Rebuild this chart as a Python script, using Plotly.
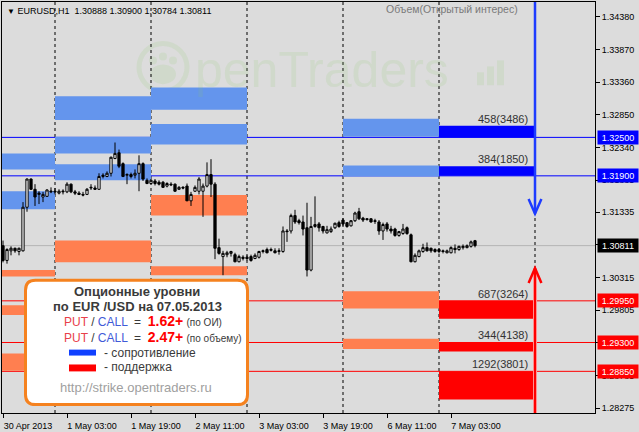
import plotly.graph_objects as go

W, H = 639, 432
ML, MR, MT, MB = 2, 44, 1, 16
FONT = "Liberation Sans, Arial, sans-serif"

# EURUSD H1, bar index 0 = 30 Apr 2013 11:00 (weekend bars skipped)
opens = [
    1.3081, 1.3058, 1.3073, 1.3077, 1.3072, 1.3073, 1.3141, 1.3185, 1.3169, 1.3161,
    1.3157, 1.3158, 1.3165, 1.3166, 1.3163, 1.3165, 1.3165, 1.3177, 1.3165, 1.3163,
    1.3161, 1.3161, 1.3171, 1.3171, 1.3169, 1.3189, 1.3189, 1.3194, 1.3217, 1.3226,
    1.3209, 1.3191, 1.3192, 1.3191, 1.3194, 1.3209, 1.3183, 1.3178, 1.3182, 1.3180,
    1.3180, 1.3174, 1.3177, 1.3177, 1.3169, 1.3172, 1.3174, 1.3151, 1.3166, 1.3166,
    1.3166, 1.3174, 1.3192, 1.3177, 1.3078, 1.3064, 1.3067, 1.3069, 1.3067, 1.3056,
    1.3061, 1.3063, 1.3064, 1.3061, 1.3063, 1.3072, 1.3075, 1.3075, 1.3073, 1.3072,
    1.3072, 1.3104, 1.3104, 1.3128, 1.3120, 1.3118, 1.3109, 1.3043, 1.3111, 1.3115,
    1.3111, 1.3101, 1.3103, 1.3109, 1.3117, 1.3121, 1.3117, 1.3112, 1.3120, 1.3134,
    1.3124, 1.3123, 1.3123, 1.3120, 1.3118, 1.3104, 1.3115, 1.3107, 1.3107, 1.3097,
    1.3100, 1.3109, 1.3098, 1.3056, 1.3064, 1.3072, 1.3078, 1.3077, 1.3075, 1.3075,
    1.3073, 1.3070, 1.3070, 1.3077, 1.3075, 1.3078, 1.3078, 1.3080, 1.30888,
]
highs = [
    1.3089, 1.3077, 1.3080, 1.3078, 1.3078, 1.3149, 1.3186, 1.3186, 1.3177, 1.3166,
    1.3165, 1.3169, 1.3172, 1.3171, 1.3169, 1.3169, 1.3180, 1.3178, 1.3168, 1.3166,
    1.3165, 1.3171, 1.3177, 1.3175, 1.3194, 1.3194, 1.3197, 1.3220, 1.3242, 1.3231,
    1.3211, 1.3194, 1.3195, 1.3200, 1.3222, 1.3211, 1.3186, 1.3185, 1.3185, 1.3183,
    1.3182, 1.3180, 1.3180, 1.3178, 1.3174, 1.3174, 1.3178, 1.3165, 1.3175, 1.3188,
    1.3178, 1.3211, 1.3216, 1.3180, 1.3092, 1.3073, 1.3073, 1.3073, 1.3070, 1.3067,
    1.3066, 1.3066, 1.3067, 1.3069, 1.3073, 1.3075, 1.3078, 1.3078, 1.3077, 1.3077,
    1.3111, 1.3107, 1.3131, 1.3137, 1.3123, 1.3128, 1.3148, 1.3126, 1.3158, 1.3118,
    1.3112, 1.3112, 1.3111, 1.3117, 1.3120, 1.3124, 1.3118, 1.3121, 1.3134, 1.3140,
    1.3126, 1.3124, 1.3124, 1.3123, 1.3121, 1.3117, 1.3118, 1.3112, 1.3109, 1.3104,
    1.3115, 1.3111, 1.3100, 1.3069, 1.3075, 1.3084, 1.3086, 1.3078, 1.3077, 1.3077,
    1.3075, 1.3075, 1.3080, 1.3083, 1.3081, 1.3083, 1.3083, 1.3089, 1.30900,
]
lows = [
    1.3055, 1.3053, 1.3066, 1.3070, 1.3066, 1.3072, 1.3134, 1.3168, 1.3143, 1.3146,
    1.3149, 1.3157, 1.3163, 1.3161, 1.3161, 1.3161, 1.3163, 1.3163, 1.3160, 1.3160,
    1.3158, 1.3160, 1.3168, 1.3168, 1.3168, 1.3186, 1.3188, 1.3189, 1.3216, 1.3202,
    1.3188, 1.3177, 1.3186, 1.3186, 1.3166, 1.3182, 1.3177, 1.3177, 1.3175, 1.3175,
    1.3171, 1.3172, 1.3174, 1.3165, 1.3168, 1.3169, 1.3151, 1.3143, 1.3165, 1.3161,
    1.3126, 1.3172, 1.3157, 1.3060, 1.3067, 1.3035, 1.3063, 1.3064, 1.3055, 1.3055,
    1.3058, 1.3058, 1.3056, 1.3060, 1.3061, 1.3069, 1.3069, 1.3072, 1.3069, 1.3067,
    1.3070, 1.3087, 1.3100, 1.3115, 1.3114, 1.3097, 1.3033, 1.3041, 1.3109, 1.3103,
    1.3100, 1.3100, 1.3101, 1.3107, 1.3109, 1.3112, 1.3109, 1.3111, 1.3118, 1.3121,
    1.3118, 1.3120, 1.3117, 1.3115, 1.3098, 1.3090, 1.3103, 1.3100, 1.3095, 1.3095,
    1.3098, 1.3098, 1.3055, 1.3055, 1.3063, 1.3070, 1.3072, 1.3070, 1.3070, 1.3069,
    1.3069, 1.3069, 1.3069, 1.3069, 1.3073, 1.3075, 1.3077, 1.3078, 1.30784,
]
closes = [
    1.3058, 1.3075, 1.3077, 1.3073, 1.3077, 1.3141, 1.3185, 1.3169, 1.3157, 1.3163,
    1.3161, 1.3168, 1.3166, 1.3165, 1.3166, 1.3166, 1.3177, 1.3165, 1.3163, 1.3161,
    1.3160, 1.3169, 1.3172, 1.3169, 1.3189, 1.3191, 1.3194, 1.3219, 1.3225, 1.3205,
    1.3189, 1.3192, 1.3189, 1.3194, 1.3209, 1.3185, 1.3178, 1.3183, 1.3178, 1.3177,
    1.3172, 1.3178, 1.3176, 1.3166, 1.3172, 1.3171, 1.3151, 1.3161, 1.3172, 1.3185,
    1.3174, 1.3192, 1.3177, 1.3077, 1.3069, 1.3069, 1.3070, 1.3072, 1.3056, 1.3064,
    1.3063, 1.3061, 1.3058, 1.3066, 1.3072, 1.3073, 1.3070, 1.3074, 1.3070, 1.3073,
    1.3104, 1.3103, 1.3128, 1.3118, 1.3117, 1.3107, 1.3043, 1.3111, 1.3114, 1.3109,
    1.3104, 1.3106, 1.3107, 1.3116, 1.3111, 1.3115, 1.3111, 1.3120, 1.3132, 1.3123,
    1.3121, 1.3122, 1.3118, 1.3119, 1.3104, 1.3114, 1.3107, 1.3104, 1.3097, 1.3103,
    1.3107, 1.3100, 1.3056, 1.3066, 1.3073, 1.3078, 1.3073, 1.3073, 1.3072, 1.3072,
    1.3072, 1.3073, 1.3078, 1.3075, 1.3080, 1.3080, 1.3081, 1.3087, 1.30811,
]
last_price = 1.30811

tick_idx = [0, 16, 32, 48, 64, 80, 96, 112]
tick_text = ["30 Apr 2013", "1 May 03:00", "1 May 19:00", "2 May 11:00",
             "3 May 03:00", "3 May 19:00", "6 May 11:00", "7 May 03:00"]
day_starts = [13, 37, 61, 85, 109, 133]   # bar index of 00:00 each day

price_ticks = [1.34380, 1.33870, 1.33360, 1.32850, 1.32340, 1.31835, 1.31335,
               1.30825, 1.30315, 1.29805, 1.29295, 1.28785, 1.28275]

# option-level zones of earlier days (light colours)
zone_start = [-11, -11, -11, -11, -11, 13, 13, 13, 13, 37, 37, 37, 37, 85, 85, 85, 85]
zone_end   = [13, 13, 13, 13, 13, 37, 37, 37, 37, 61, 61, 61, 61, 109, 109, 109, 109]
zone_lo = [1.3200, 1.3138, 1.3033, 1.2973, 1.2886,
           1.3277, 1.3225, 1.3183, 1.3055,
           1.3293, 1.3239, 1.3128, 1.3035,
           1.3251, 1.3189, 1.2983, 1.2920]
zone_hi = [1.3225, 1.3166, 1.3043, 1.2988, 1.2913,
           1.3314, 1.3251, 1.3208, 1.3089,
           1.3328, 1.3271, 1.3160, 1.3049,
           1.3279, 1.3206, 1.3010, 1.2936]
zone_kind = ["res", "res", "sup", "sup", "sup",
             "res", "res", "res", "sup",
             "res", "res", "sup", "sup",
             "res", "res", "sup", "sup"]

# current day (7 May) levels: zone bounds, volume(open interest)
cur_start, cur_end = 109, 133
cur_lo = [1.3250, 1.3190, 1.2967, 1.2916, 1.2841]
cur_hi = [1.3268, 1.3205, 1.2995, 1.2930, 1.2885]
cur_kind = ["res", "res", "sup", "sup", "sup"]
cur_label = ["458(3486)", "384(1850)", "687(3264)", "344(4138)", "1292(3801)"]
res_levels = [1.3250, 1.3190]
sup_levels = [1.2995, 1.2930, 1.2885]

arrow_x = 133
blue_tip = 1.3131
red_tip = 1.3046

Y0, Y1 = 1.28200, 1.34612
X0, X1 = -0.25, 148.0

LIGHT = {"res": "#6495ED", "sup": "#FF7F50"}
BRIGHT = {"res": "#0000FF", "sup": "#FF0000"}


def px_x(px):
    return (px - ML) / (W - ML - MR)


def px_y(py):
    return (H - MB - py) / (H - MT - MB)


fig = go.Figure()
fig.add_trace(go.Candlestick(
    x=list(range(len(opens))), open=opens, high=highs, low=lows, close=closes,
    increasing=dict(fillcolor="white", line=dict(color="black", width=1)),
    decreasing=dict(fillcolor="black", line=dict(color="black", width=1)),
    hoverinfo="skip", showlegend=False,
))

shapes = []
# watermark
wm = "rgba(140,200,110,0.15)"
shapes.append(dict(type="circle", xref="paper", yref="paper", layer="below",
                   x0=px_x(139), x1=px_x(187), y0=px_y(91), y1=px_y(43),
                   line=dict(color=wm, width=5)))
for cx, cy in [(153, 60), (163, 56), (173, 60)]:
    shapes.append(dict(type="circle", xref="paper", yref="paper", layer="below",
                       x0=px_x(cx - 4), x1=px_x(cx + 4), y0=px_y(cy + 4), y1=px_y(cy - 4),
                       fillcolor=wm, line=dict(width=0)))
shapes.append(dict(type="circle", xref="paper", yref="paper", layer="below",
                   x0=px_x(150), x1=px_x(176), y0=px_y(84), y1=px_y(64),
                   fillcolor=wm, line=dict(width=0)))
for bx, top in [(477, 72), (487, 66), (497, 60)]:
    shapes.append(dict(type="rect", xref="paper", yref="paper", layer="below",
                       x0=px_x(bx), x1=px_x(bx + 7), y0=px_y(85), y1=px_y(top),
                       fillcolor=wm, line=dict(width=0)))

# day separators
for d in day_starts:
    shapes.append(dict(type="line", xref="x", yref="paper", layer="below",
                       x0=d, x1=d, y0=0, y1=1,
                       line=dict(color="black", width=1, dash="3px,3px")))
# zones
for s, e, lo, hi, k in zip(zone_start, zone_end, zone_lo, zone_hi, zone_kind):
    shapes.append(dict(type="rect", xref="x", yref="y", layer="below",
                       x0=s, x1=e, y0=lo, y1=hi, fillcolor=LIGHT[k], line=dict(width=0)))
for lo, hi, k in zip(cur_lo, cur_hi, cur_kind):
    shapes.append(dict(type="rect", xref="x", yref="y", layer="below",
                       x0=cur_start, x1=cur_end, y0=lo, y1=hi,
                       fillcolor=BRIGHT[k], line=dict(width=0)))
# level lines
shapes.append(dict(type="line", xref="paper", yref="y", layer="below",
                   x0=0, x1=1, y0=last_price, y1=last_price,
                   line=dict(color="#B4B4B4", width=1)))
for lv in res_levels:
    shapes.append(dict(type="line", xref="paper", yref="y", layer="below",
                       x0=0, x1=1, y0=lv, y1=lv, line=dict(color="#0000FF", width=1)))
for lv in sup_levels:
    shapes.append(dict(type="line", xref="paper", yref="y", layer="below",
                       x0=0, x1=1, y0=lv, y1=lv, line=dict(color="#FF0000", width=1)))

# arrows
adx, ady = 1.6, 0.0023
shapes.append(dict(type="line", xref="x", yref="y", x0=arrow_x, x1=arrow_x,
                   y0=blue_tip, y1=Y1, line=dict(color="#1E3CFF", width=2.5)))
shapes.append(dict(type="path", xref="x", yref="y",
                   path=f"M {arrow_x - adx},{blue_tip + ady} L {arrow_x},{blue_tip} L {arrow_x + adx},{blue_tip + ady}",
                   line=dict(color="#1E3CFF", width=2.5)))
shapes.append(dict(type="line", xref="x", yref="y", x0=arrow_x, x1=arrow_x,
                   y0=Y0, y1=red_tip, line=dict(color="#FF9090", width=4)))
shapes.append(dict(type="line", xref="x", yref="y", x0=arrow_x, x1=arrow_x,
                   y0=Y0, y1=red_tip, line=dict(color="#FF0000", width=2)))
shapes.append(dict(type="path", xref="x", yref="y",
                   path=f"M {arrow_x - adx},{red_tip - ady} L {arrow_x},{red_tip} L {arrow_x + adx},{red_tip - ady}",
                   line=dict(color="#FF0000", width=2.5)))

# info box
bx0, bx1, by0, by1, r = 25.5, 247.5, 282, 407.5, 10
rx = r / (W - ML - MR)
ry = r / (H - MT - MB)
X_0, X_1, YT, YB = px_x(bx0), px_x(bx1), px_y(by0), px_y(by1)
box_path = (f"M {X_0 + rx},{YT} L {X_1 - rx},{YT} Q {X_1},{YT} {X_1},{YT - ry} "
            f"L {X_1},{YB + ry} Q {X_1},{YB} {X_1 - rx},{YB} L {X_0 + rx},{YB} "
            f"Q {X_0},{YB} {X_0},{YB + ry} L {X_0},{YT - ry} Q {X_0},{YT} {X_0 + rx},{YT} Z")
shapes.append(dict(type="path", xref="paper", yref="paper", path=box_path,
                   fillcolor="white", line=dict(color="#F5821F", width=3)))
shapes.append(dict(type="rect", xref="paper", yref="paper",
                   x0=px_x(69), x1=px_x(96), y0=px_y(358), y1=px_y(352),
                   fillcolor="#1040FF", line=dict(width=0)))
shapes.append(dict(type="rect", xref="paper", yref="paper",
                   x0=px_x(69), x1=px_x(96), y0=px_y(374), y1=px_y(367),
                   fillcolor="#FF0000", line=dict(width=0)))


def note(px, py, text, size, color, anchor="center", bold=False):
    return dict(xref="paper", yref="paper", x=px_x(px), y=px_y(py), xanchor=anchor,
                yanchor="middle", showarrow=False, text=f"<b>{text}</b>" if bold else text,
                font=dict(size=size, color=color, family=FONT))


ann = []
ann.append(note(193, 70, "penTraders", 50, wm, anchor="left"))
ann.append(note(5, 10.5, '<span style="font-size:8px">▼</span> EURUSD,H1&nbsp; '
                         '1.30888 1.30900 1.30784 1.30811', 9, "black", anchor="left"))
ann.append(note(452, 8.5, "Объем(Открытый интерес)", 10.5, "#7A7A7A"))

for lo, hi, lab in zip(cur_lo, cur_hi, cur_label):
    ann.append(dict(xref="x", yref="y", x=cur_end, y=hi, xanchor="right", yanchor="bottom",
                    xshift=-5, yshift=-1, showarrow=False, text=lab,
                    font=dict(size=11, color="#333333", family=FONT)))

right_labels = res_levels + [last_price] + sup_levels
right_colors = ["#0000FF"] * len(res_levels) + ["black"] + ["#FF0000"] * len(sup_levels)
for lv, col in zip(right_labels, right_colors):
    ann.append(dict(xref="paper", yref="y", x=1, y=lv, xanchor="left", yanchor="middle",
                    xshift=2, showarrow=False, text=f"{lv:.5f}", bgcolor=col,
                    width=38, height=11, borderpad=1,
                    font=dict(size=9, color="white", family=FONT)))

dark = "#3A3A3A"
pc = ('<span style="color:#E8404A">PUT</span> / <span style="color:#3F5BD8">CALL</span>'
      ' &nbsp;=&nbsp; <b><span style="color:#FF0000;font-size:14px">{}</span></b>'
      ' <span style="font-size:10px">{}</span>')
ann.append(note(137, 293, "Опционные уровни", 13, dark, bold=True))
ann.append(note(137, 308, "по EUR /USD на 07.05.2013", 13, dark, bold=True))
ann.append(note(62, 323, pc.format("1.62+", "(по ОИ)"), 12, dark, anchor="left"))
ann.append(note(62, 339, pc.format("2.47+", "(по объему)"), 12, dark, anchor="left"))
ann.append(note(102, 355, "- сопротивление", 12, dark, anchor="left"))
ann.append(note(102, 370, "- поддержка", 12, dark, anchor="left"))
ann.append(note(136, 390, "http://strike.opentraders.ru", 13, "#A0A0A0"))

fig.update_layout(
    width=W, height=H,
    margin=dict(l=ML, r=MR, t=MT, b=MB, pad=0),
    paper_bgcolor="#DCDCDC", plot_bgcolor="#DCDCDC",
    font=dict(family=FONT, size=9, color="black"),
    showlegend=False, boxgap=0.2,
    shapes=shapes, annotations=ann,
    xaxis=dict(range=[X0, X1], rangeslider=dict(visible=False), showgrid=False,
               zeroline=False, showline=True, linecolor="black", linewidth=1, mirror=True,
               tickmode="array", tickvals=tick_idx, ticktext=tick_text,
               ticks="outside", ticklen=4, tickcolor="black", ticklabelshift=25,
               tickfont=dict(size=9)),
    yaxis=dict(range=[Y0, Y1], side="right", showgrid=False, zeroline=False,
               showline=True, linecolor="black", linewidth=1, mirror=True,
               tickmode="array", tickvals=price_ticks,
               ticktext=[f"{v:.5f}" for v in price_ticks],
               ticks="outside", ticklen=4, tickcolor="black", tickfont=dict(size=9)),
)

fig.write_html("out.html", config={"displayModeBar": False},
               post_script="document.body.style.margin='0';document.body.style.overflow='hidden';")
